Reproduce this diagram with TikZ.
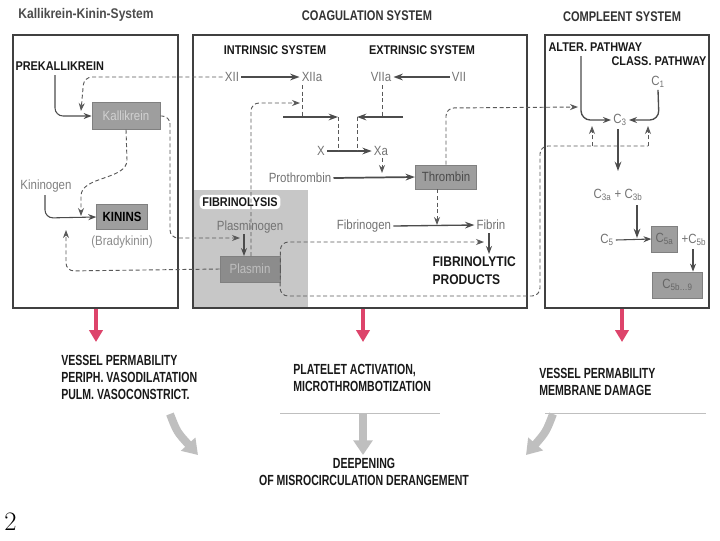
\documentclass[tikz,border=0pt]{standalone}
\usepackage{fontspec}
\newfontfamily\condA{Liberation Sans}[FakeStretch=0.72]
\newfontfamily\condB{Liberation Sans}[FakeStretch=0.79]
\newfontfamily\condC{Liberation Sans}[FakeStretch=0.86]
\usetikzlibrary{arrows.meta}
\definecolor{redarr}{RGB}{221,68,107}
\begin{document}
\begin{tikzpicture}[x=0.75pt,y=-0.75pt,
  panel/.style={draw=black!75, line width=1.1pt},
  lbl/.style={font=\condC\fontsize{10}{11}\selectfont, text=black!55, inner sep=1.5pt},
  hd/.style={font=\condC\bfseries\fontsize{9.5}{10}\selectfont, text=black!90, inner sep=1pt},
  ttl/.style={font=\condB\bfseries\fontsize{10.5}{11}\selectfont, text=black!80},
  bt/.style={font=\condA\bfseries\fontsize{11}{12.75}\selectfont, align=left, text=black!90, inner sep=0pt},
  gbox/.style={fill=black!38, draw=black!50, line width=0.6pt, inner sep=0pt, font=\condC\fontsize{10}{11}\selectfont},
  dsh/.style={draw=black!65, line width=0.7pt, dash pattern=on 3pt off 2pt},
  sar/.style={draw=black!70, line width=1.3pt, -{Stealth[length=7pt,width=5pt]}},
  thar/.style={draw=black!70, line width=0.8pt, -{Stealth[length=6pt,width=4.5pt]}},
  dar/.style={dsh, -{Stealth[length=6pt,width=4.5pt]}},
  redarrow/.style={draw=redarr, line width=3pt, -{Triangle[length=9pt,width=10pt]}},
  garrow/.style={draw=black!25, line width=6pt, -{Triangle[length=11pt,width=14pt]}}
]
\useasboundingbox (0,0) rectangle (720,540);
\fill[white] (0,0) rectangle (720,540);

% titles
\node[ttl, font=\condC\bfseries\fontsize{10.5}{11}\selectfont, text=black!70] (t1) at (86,15) {Kallikrein-Kinin-System};
\node[ttl] (t2) at (367,16) {COAGULATION SYSTEM};
\node[ttl] (t3) at (622,17) {COMPLEENT SYSTEM};

% fibrinolysis region
\fill[black!22] (194,190) rectangle (308,307);

% panels
\draw[panel] (13,35) rectangle (178,308);
\draw[panel] (193,35) rectangle (527,308);
\draw[panel] (545,35) rectangle (709,308);

% ---------- left panel
\node[hd, anchor=west] (pk) at (14,66) {PREKALLIKREIN};
\node[gbox, minimum width=51pt, minimum height=20pt, text=black!18] (kal) at (126,116) {Kallikrein};
\node[lbl, text=black!50] (kng) at (46,186) {Kininogen};
\node[gbox, minimum width=38pt, minimum height=19pt, font=\condC\bfseries\fontsize{10}{11}\selectfont, text=black] (kin) at (122,217) {KININS};
\node[lbl, text=black!45] (bk) at (122,242) {(Bradykinin)};

\coordinate (pkk) at (55,75);
\draw[thar, rounded corners=6pt] (pkk) -- (55,116) -- (kal.west);
\coordinate (kgn) at (45,195);
\draw[thar, rounded corners=6pt] (kgn) -- (45,218) -- (kin.west);

% ---------- middle panel
\node[hd] (intr) at (275,50) {INTRINSIC SYSTEM};
\node[hd] (extr) at (422,50) {EXTRINSIC SYSTEM};
\node[lbl] (xii) at (232,77) {XII};
\node[lbl] (xiia) at (312,77) {XIIa};
\node[lbl] (viia) at (381,77) {VIIa};
\node[lbl] (vii) at (459,77) {VII};
\draw[sar] (xii.east) -- (xiia.west);
\draw[sar] (vii.west) -- (viia.east);

\coordinate (ia) at (283,117);
\coordinate (ib) at (338,117);
\coordinate (ea) at (403,117);
\coordinate (eb) at (357,117);
\draw[sar] (ia) -- (ib);
\draw[sar] (ea) -- (eb);
\draw[dsh] (302,85) -- (302,117);
\draw[dsh] (382,85) -- (382,117);

\node[lbl] (x) at (321,151) {X};
\node[lbl] (xa) at (381,151) {Xa};
\draw[sar] (x.east) -- (xa.west);
\draw[dsh] (ib) -- (ib |- x.east);
\draw[dsh] (eb) -- (eb |- x.east);
\coordinate (xad) at (382,173);
\draw[dar] (xa.south) ++(1,0) -- (xad);

\node[lbl] (pt) at (300,178) {Prothrombin};
\node[gbox, minimum width=46pt, minimum height=18pt, text=black!70] (thr) at (446,177) {Thrombin};
\draw[sar] (pt.east) -- (thr.west);

\node[lbl] (fbg) at (364,226) {Fibrinogen};
\node[lbl] (fbr) at (491,225) {Fibrin};
\draw[sar, line width=1pt] (fbg.east) -- (fbr.west);
\coordinate (thd) at (437,225);
\draw[dar] (thd |- thr.south) -- (thd);
\node[hd, anchor=north west, align=left, font=\condC\bfseries\fontsize{10.5}{13.5}\selectfont] (fp) at (431,255) {FIBRINOLYTIC\\PRODUCTS};
\draw[thar] (489,233) -- (489,254);

% fibrinolysis
\node[hd, fill=white, rounded corners=3pt, inner sep=2pt] (fl) at (240,202) {FIBRINOLYSIS};
\node[lbl] (plg) at (250,227) {Plasminogen};
\node[gbox, minimum width=45pt, minimum height=19.5pt, fill=black!45, text=black!25] (pl) at (250,269) {Plasmin};
\draw[thar] (244,234) -- (244,256);

% dashed regulatory connectors
\coordinate (xiiin) at (300,103);
\draw[dar, rounded corners=6pt] (251,256) -- (251,103) -- (xiiin);
\coordinate (kalin) at (81,111);
\draw[dar, rounded corners=6pt] (xii.west) -- (84,77) -- (kalin);
\coordinate (plgin) at (240,238);
\draw[dar, rounded corners=6pt] (kal.east) -- (170,116) -- (170,238) -- (plgin);
\coordinate (kinin) at (81,216);
\draw[dar] (kal.south) -- (127,160) .. controls (127,180) and (81,176) .. (81,196) -- (kinin);
\coordinate (kgin) at (66,230);
\draw[dar, rounded corners=6pt] (pl.west) -- (66,271) -- (kgin);
\coordinate (fibdeg) at (484,242);
\draw[dar, rounded corners=6pt] (pl.east) -- (pl.east |- fibdeg) -- (fibdeg);
\coordinate (c3l) at (592,126);
\coordinate (c3r) at (648,126);
\draw[dsh, rounded corners=6pt] (pl.east) -- (280,296) -- (540,296) -- (540,146) -- (648,146);
\draw[dar] (592,146) -- (c3l);
\draw[dar] (648,146) -- (c3r);
\coordinate (c3in) at (578,107);
\draw[dar, rounded corners=6pt] (thr.north) -- (446,108) -- (c3in);

% ---------- right panel
\node[hd, anchor=west] (alt) at (547,47) {ALTER. PATHWAY};
\node[hd, anchor=east] (cls) at (708,61) {CLASS. PATHWAY};
\node[lbl] (c1) at (658,82) {C\textsubscript{1}};
\node[lbl] (c3) at (620,120) {C\textsubscript{3}};
\draw[thar, line width=1pt, rounded corners=7pt] (581,56) -- (581,120) -- (c3.west);
\draw[thar, line width=1pt, rounded corners=7pt] (c1.south) -- (659,120) -- (c3.east);
\node[lbl] (c3ab) at (618,195) {C\textsubscript{3a} + C\textsubscript{3b}};
\draw[sar] (618,129) -- (618,171);
\draw[sar] (637,205) -- (637,238);
\node[lbl] (c5) at (607,240) {C\textsubscript{5}};
\node[gbox, minimum width=19pt, minimum height=19.5pt, text=black!60] (c5a) at (664.5,239) {C\textsubscript{5a}};
\node[lbl] (c5b) at (694,240) {+C\textsubscript{5b}};
\draw[thar] (c5.east) -- (c5a.west);
\node[gbox, minimum width=38pt, minimum height=19.5pt, text=black!60] (c59) at (677.5,285) {C\textsubscript{5b\ldots 9}};
\draw[thar] (693,249) -- (c59.north -| 693,0);

% ---------- red arrows
\coordinate (r1) at (96,342);
\coordinate (r2) at (363,342);
\coordinate (r3) at (622,342);
\draw[redarrow] (96,309) -- (r1);
\draw[redarrow] (363,309) -- (r2);
\draw[redarrow] (622,309) -- (r3);

% ---------- bottom texts
\node[bt, anchor=north west] (b1) at (61,355) {VESSEL PERMABILITY\\PERIPH. VASODILATATION\\PULM. VASOCONSTRICT.};
\node[bt, anchor=north west] (b2) at (293,364) {PLATELET ACTIVATION,\\MICROTHROMBOTIZATION};
\node[bt, anchor=north west] (b3) at (539,368) {VESSEL PERMABILITY\\MEMBRANE DAMAGE};
\draw[black!25, line width=0.6pt] (280,413) -- (440,413);
\draw[black!25, line width=0.6pt] (545,413) -- (706,413);

\node[bt, align=center, anchor=north] (dp) at (364,458) {DEEPENING\\OF MISROCIRCULATION DERANGEMENT};
\draw[garrow] (170,414) .. controls (177,432) .. (198,455);
\draw[garrow] (363,414) -- (363,455);
\draw[garrow] (553,414) .. controls (546,432) .. (526,455);

\node[font=\fontsize{20}{20}\selectfont, anchor=west, inner sep=0pt] (pg) at (4,522) {2};
\end{tikzpicture}
\end{document}
